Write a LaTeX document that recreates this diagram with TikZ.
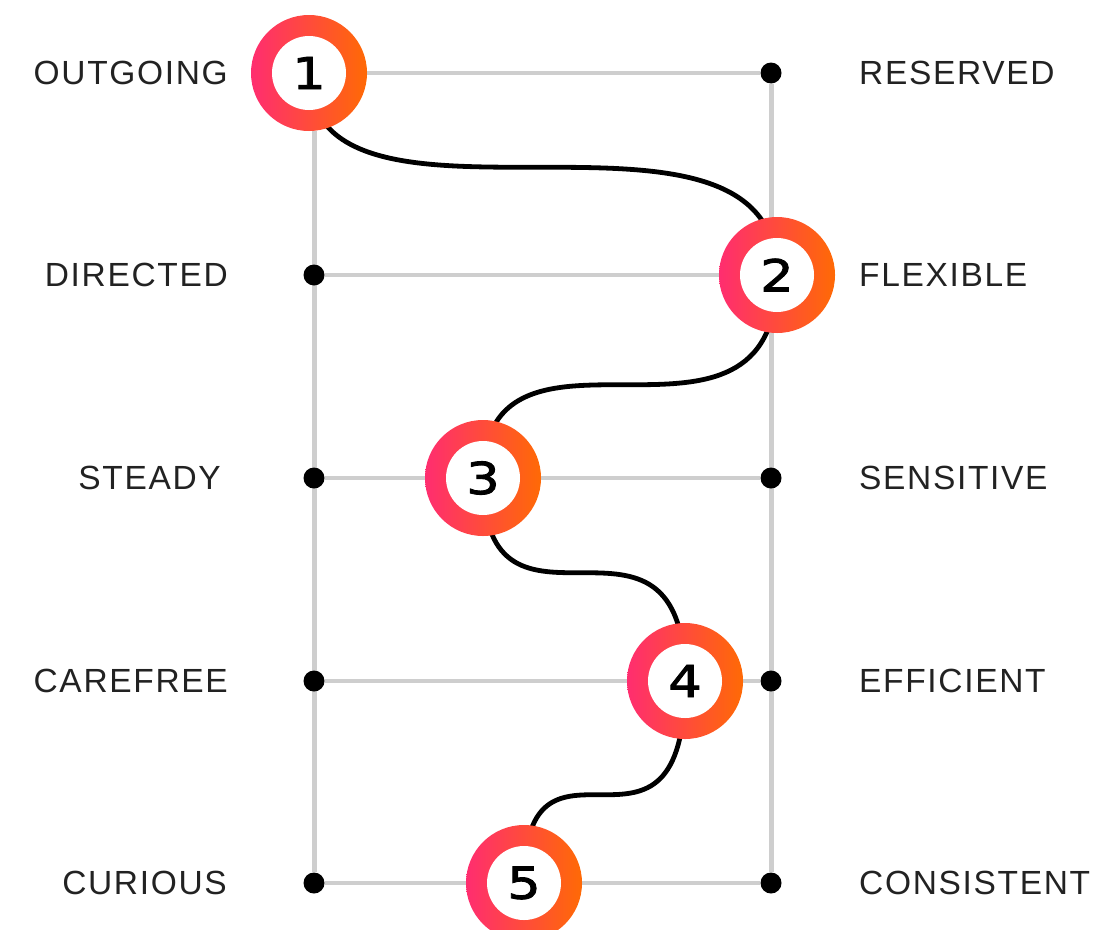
\documentclass[tikz,border=0pt]{standalone}
\usepackage{fontspec}
\usepackage{xcolor}
\definecolor{ringpink}{RGB}{255,45,112}
\definecolor{ringorange}{RGB}{255,106,5}
\definecolor{railgray}{RGB}{206,206,206}
\definecolor{inkgray}{RGB}{34,34,34}
\newfontfamily\traitfont{Liberation Sans}[LetterSpace=5]
\newfontfamily\stepfont{DejaVu Sans}[FakeBold=2, FakeStretch=1.2]
\usepackage{tikz}
\usetikzlibrary{positioning, backgrounds}

\begin{document}
\begin{tikzpicture}[x=1pt, y=1pt]
	\useasboundingbox (0,0) rectangle (1099,-929);
	
	% ------------------------------------------------------------------
	% STYLE DEFINITIONS
	% ------------------------------------------------------------------
	\tikzset{
		dot/.style   = {circle, fill=black, inner sep=0pt, minimum size=21pt},
		ring/.style  = {circle, inner sep=0pt, minimum size=116pt,
			left color=ringpink, right color=ringorange,
			path picture={\fill[white] (path picture bounding box.center) circle (37pt);},
			font=\stepfont\fontsize{44}{44}\selectfont},
		rail/.style  = {line width=5pt, railgray},
		rung/.style  = {line width=4pt, railgray},
		wave/.style  = {line width=4.8pt, black},
		trait/.style = {inner sep=0pt, text=inkgray, font=\traitfont\fontsize{33.5}{36}\selectfont},
	}
	
	% ------------------------------------------------------------------
	% RINGS & DOTS
	% ------------------------------------------------------------------
	\node[ring] (n1) at (309,-73)  {1};
	\node[ring] (n2) at (777,-275) {2};
	\node[ring] (n3) at (483,-478) {3};
	\node[ring] (n4) at (685,-681) {4};
	\node[ring] (n5) at (524,-883) {5};
	
	\node[dot] (r1) at (771,-73)  {};
	\node[dot] (l2) at (314,-275) {};
	\node[dot] (l3) at (314,-478) {};
	\node[dot] (r3) at (771,-478) {};
	\node[dot] (l4) at (314,-681) {};
	\node[dot] (r4) at (771,-681) {};
	\node[dot] (l5) at (314,-883) {};
	\node[dot] (r5) at (771,-883) {};
	
	% ------------------------------------------------------------------
	% LABELS
	% ------------------------------------------------------------------
	\node[trait, anchor=east] (t1) at (228,-73)  {OUTGOING};
	\node[trait, anchor=east] (t2) at (228,-275) {DIRECTED};
	\node[trait, anchor=east] (t3) at (221,-478) {STEADY};
	\node[trait, anchor=east] (t4) at (228,-681) {CAREFREE};
	\node[trait, anchor=east] (t5) at (227,-883) {CURIOUS};
	
	\node[trait, anchor=west] (s1) at (859,-73)  {RESERVED};
	\node[trait, anchor=west] (s2) at (859,-275) {FLEXIBLE};
	\node[trait, anchor=west] (s3) at (859,-478) {SENSITIVE};
	\node[trait, anchor=west] (s4) at (859,-681) {EFFICIENT};
	\node[trait, anchor=west] (s5) at (859,-883) {CONSISTENT};
	
	% ------------------------------------------------------------------
	% RAILS & WAVE (behind the rings)
	% ------------------------------------------------------------------
	\begin{scope}[on background layer]
		\draw[rail] (n1.south -| l2) -- (l5);
		\draw[rail] (r1) -- (r5);
		\draw[rung] (n1) -- (r1);
		\draw[rung] (l2) -- (n2);
		\draw[rung] (l3) -- (r3);
		\draw[rung] (l4) -- (r4);
		\draw[rung] (l5) -- (r5);
		
		\draw[wave] (n1.center) .. controls +(0,-193) and +(0,211) .. (n2.center);
		\draw[wave] (n2.center) .. controls +(0,-214) and +(0,192) .. (n3.center);
		\draw[wave] (n3.center) .. controls +(0,-194) and +(0,212) .. (n4.center);
		\draw[wave] (n4.center) .. controls +(0,-219) and +(0,185) .. (n5.center);
	\end{scope}
\end{tikzpicture}
\end{document}
